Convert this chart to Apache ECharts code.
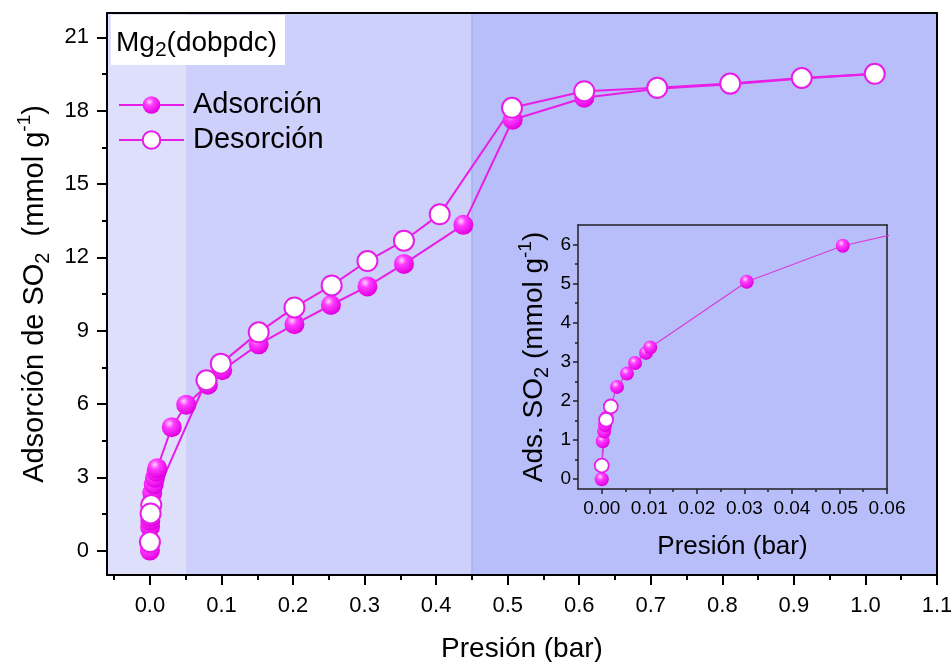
<!DOCTYPE html>
<html>
<head>
<meta charset="utf-8">
<script src="https://cdn.jsdelivr.net/npm/echarts@6/dist/echarts.min.js"></script>
<style>
  html, body { margin: 0; padding: 0; background: #fff; }
  #main { width: 951px; height: 662px; }
</style>
</head>
<body>
<div id="main"></div>
<script>
// adsorption branch (pressure in bar, uptake in mmol/g)
var adsP = [0, 0.0002, 0.0005, 0.0007, 0.0010, 0.0032, 0.0053, 0.0070, 0.0093, 0.0102, 0.0305, 0.0507,
            0.081, 0.101, 0.152, 0.202, 0.253, 0.304, 0.355, 0.438, 0.507, 0.607, 0.709, 0.811, 0.911, 1.013];
var adsQ = [0, 0.97, 1.22, 1.38, 1.58, 2.36, 2.70, 2.97, 3.23, 3.37, 5.05, 5.97,
            6.79, 7.38, 8.44, 9.26, 10.05, 10.81, 11.73, 13.33, 17.63, 18.53, 18.90, 19.08, 19.32, 19.50];
// desorption branch, in measuring order (high -> low pressure)
var desP = [1.013, 0.911, 0.811, 0.709, 0.607, 0.506, 0.405, 0.355, 0.304, 0.254, 0.202, 0.152, 0.099, 0.079, 0.0019, 0.0009, 0];
var desQ = [19.51, 19.34, 19.11, 18.94, 18.80, 18.12, 13.76, 12.68, 11.85, 10.85, 9.95, 8.93, 7.65, 6.97, 1.86, 1.52, 0.35];

var xTicks = [0, 0.1, 0.2, 0.3, 0.4, 0.5, 0.6, 0.7, 0.8, 0.9, 1.0, 1.1];
var xMinor = [-0.05, 0.05, 0.15, 0.25, 0.35, 0.45, 0.55, 0.65, 0.75, 0.85, 0.95, 1.05];
var yTicks = [0, 3, 6, 9, 12, 15, 18, 21];
var yMinor = [1.5, 4.5, 7.5, 10.5, 13.5, 16.5, 19.5];
var inXTicks = [0, 0.01, 0.02, 0.03, 0.04, 0.05, 0.06];
var inXMinor = [0.005, 0.015, 0.025, 0.035, 0.045, 0.055];
var inYTicks = [0, 1, 2, 3, 4, 5, 6];
var inYMinor = [0.5, 1.5, 2.5, 3.5, 4.5, 5.5];
// pressure zones shaded behind the isotherm
var zones = [[-0.06, 0.05], [0.05, 0.45], [0.45, 1.1]];
var zoneColors = ['#dee0fb', '#ccd0fa', '#b7bef9'];
var insetMax = 0.06;

var FONT = '"Liberation Sans", Arial, sans-serif';
var MAG = '#e81ee8';

function pairs(xs, ys) {
  return xs.map(function (x, i) { return [x, ys[i]]; });
}
var adsData = pairs(adsP, adsQ);
var desData = pairs(desP, desQ);
var desInset = desData.filter(function (d) { return d[0] <= insetMax; });

var ball = {
  type: 'radial', x: 0.38, y: 0.32, r: 0.68,
  colorStops: [
    { offset: 0, color: '#ffd6ff' },
    { offset: 0.35, color: '#ff3cff' },
    { offset: 1, color: '#e000e0' }
  ]
};
var rich = {
  sub: { fontSize: 20, lineHeight: 18, verticalAlign: 'bottom', fontFamily: FONT, color: '#000' },
  sup: { fontSize: 19, lineHeight: 18, verticalAlign: 'top', fontFamily: FONT, color: '#000' }
};

function frameAxis(grid, pos, color, width) {
  return {
    type: 'value', gridIndex: grid, position: pos, z: 3,
    axisLine: { show: true, onZero: false, lineStyle: { color: color, width: width } },
    axisTick: { show: false }, axisLabel: { show: false }, splitLine: { show: false }
  };
}
function minorAxis(grid, pos, vals, len, color, width) {
  return {
    type: 'value', gridIndex: grid, position: pos, z: 3,
    axisLine: { show: false, onZero: false },
    axisTick: { show: true, customValues: vals, length: len, lineStyle: { color: color, width: width } },
    axisLabel: { show: false }, splitLine: { show: false }
  };
}

var xMain = {
  type: 'value', gridIndex: 0, position: 'bottom', min: -0.06, max: 1.1, z: 3,
  axisLine: { onZero: false, lineStyle: { color: '#000', width: 2 } },
  axisTick: { customValues: xTicks, length: 10, lineStyle: { color: '#000', width: 2 } },
  axisLabel: { customValues: xTicks, margin: 20, fontSize: 22, fontFamily: FONT, color: '#000',
               formatter: function (v) { return v.toFixed(1); } },
  splitLine: { show: false },
  name: 'Presión (bar)', nameLocation: 'middle', nameGap: 60,
  nameTextStyle: { fontSize: 28, fontFamily: FONT, color: '#000' }
};
var x1 = minorAxis(0, 'bottom', xMinor, 5, '#000', 2); x1.min = -0.06; x1.max = 1.1;
var x2 = frameAxis(0, 'top', '#000', 2); x2.min = -0.06; x2.max = 1.1;

var yMain = {
  type: 'value', gridIndex: 0, position: 'left', min: -1, max: 22, z: 3,
  axisLine: { onZero: false, lineStyle: { color: '#000', width: 2 } },
  axisTick: { customValues: yTicks, length: 10, lineStyle: { color: '#000', width: 2 } },
  axisLabel: { customValues: yTicks, margin: 18, fontSize: 22, fontFamily: FONT, color: '#000' },
  splitLine: { show: false },
  name: 'Adsorción de SO{sub|2}  (mmol g{sup|-1})', nameLocation: 'middle', nameGap: 49,
  nameTextStyle: { fontSize: 29, lineHeight: 38, fontFamily: FONT, color: '#000', rich: rich }
};
var y1 = minorAxis(0, 'left', yMinor, 5, '#000', 2); y1.min = -1; y1.max = 22;
var y2 = frameAxis(0, 'right', '#000', 2); y2.min = -1; y2.max = 22;

var xIn = {
  type: 'value', gridIndex: 1, position: 'bottom', min: -0.005, max: 0.06, z: 3,
  axisLine: { onZero: false, lineStyle: { color: '#222', width: 1.5 } },
  axisTick: { customValues: inXTicks, length: 5, lineStyle: { color: '#222', width: 1.5 } },
  axisLabel: { customValues: inXTicks, margin: 10, fontSize: 19, fontFamily: FONT, color: '#000',
               formatter: function (v) { return v.toFixed(2); } },
  splitLine: { show: false },
  name: 'Presión (bar)', nameLocation: 'middle', nameGap: 45,
  nameTextStyle: { fontSize: 26, fontFamily: FONT, color: '#000' }
};
var x4 = minorAxis(1, 'bottom', inXMinor, 3, '#222', 1.5); x4.min = -0.005; x4.max = 0.06;
var x5 = frameAxis(1, 'top', '#222', 1.5); x5.min = -0.005; x5.max = 0.06;

var yIn = {
  type: 'value', gridIndex: 1, position: 'left', min: -0.25, max: 6.5, z: 3,
  axisLine: { onZero: false, lineStyle: { color: '#222', width: 1.5 } },
  axisTick: { customValues: inYTicks, length: 5, lineStyle: { color: '#222', width: 1.5 } },
  axisLabel: { customValues: inYTicks, margin: 7, fontSize: 19, fontFamily: FONT, color: '#000' },
  splitLine: { show: false },
  name: 'Ads. SO{sub|2} (mmol g{sup|-1})', nameLocation: 'middle', nameGap: 26,
  nameTextStyle: { fontSize: 28, lineHeight: 36, fontFamily: FONT, color: '#000', rich: rich }
};
var y4 = minorAxis(1, 'left', inYMinor, 3, '#222', 1.5); y4.min = -0.25; y4.max = 6.5;
var y5 = frameAxis(1, 'right', '#222', 1.5); y5.min = -0.25; y5.max = 6.5;

var zoneAreas = zones.map(function (z, i) {
  return [{ xAxis: z[0], itemStyle: { color: zoneColors[i] } }, { xAxis: z[1] }];
});

var option = {
  animation: false,
  backgroundColor: '#fff',
  grid: [
    { left: 107, top: 13, width: 830, height: 562, outerBoundsMode: 'none', containLabel: false },
    { left: 578, top: 225, width: 309, height: 264, outerBoundsMode: 'none', containLabel: false }
  ],
  xAxis: [xMain, x1, x2, xIn, x4, x5],
  yAxis: [yMain, y1, y2, yIn, y4, y5],
  legend: {
    data: ['Adsorción', 'Desorción'],
    orient: 'vertical', left: 113, top: 84,
    itemWidth: 65, itemHeight: 22, itemGap: 3,
    textStyle: { fontSize: 29, lineHeight: 32, fontFamily: FONT, color: '#000', padding: [0, 0, 0, 4] }
  },
  graphic: [
    { type: 'rect', z: 4, shape: { x: 111, y: 15, width: 174, height: 50 }, style: { fill: '#fff' } },
    { type: 'text', z: 5, x: 116, y: 25,
      style: { text: 'Mg{sub|2}(dobpdc)', fontSize: 28, lineHeight: 36, fontFamily: FONT, fill: '#000',
               rich: { sub: { fontSize: 21, lineHeight: 18, verticalAlign: 'bottom', fontFamily: FONT, fill: '#000' } } } }
  ],
  series: [
    {
      name: 'Adsorción', type: 'line', xAxisIndex: 0, yAxisIndex: 0,
      data: adsData, symbol: 'circle', symbolSize: 20,
      lineStyle: { color: MAG, width: 2 }, itemStyle: { color: ball },
      markArea: { silent: true, z: 1, data: zoneAreas },
      markLine: { silent: true, z: 1, symbol: 'none', label: { show: false },
                  lineStyle: { color: '#a8afee', width: 1.5, type: 'solid' },
                  data: [{ xAxis: zones[2][0] }] }
    },
    {
      name: 'Desorción', type: 'line', xAxisIndex: 0, yAxisIndex: 0,
      data: desData, symbol: 'circle', symbolSize: 20,
      lineStyle: { color: MAG, width: 2 },
      itemStyle: { color: '#fff', borderColor: MAG, borderWidth: 2 }
    },
    {
      name: 'insetAds', type: 'line', xAxisIndex: 3, yAxisIndex: 3, clip: true,
      data: adsData, symbol: 'circle', symbolSize: 14,
      lineStyle: { color: '#d93bd9', width: 1.2 }, itemStyle: { color: ball }
    },
    {
      name: 'insetDes', type: 'line', xAxisIndex: 3, yAxisIndex: 3, clip: true,
      data: desInset, symbol: 'circle', symbolSize: 14,
      lineStyle: { color: '#d93bd9', width: 1.2 },
      itemStyle: { color: '#fff', borderColor: MAG, borderWidth: 1.8 }
    }
  ]
};

var myChart = echarts.init(document.getElementById('main'));
myChart.setOption(option);
</script>
</body>
</html>
